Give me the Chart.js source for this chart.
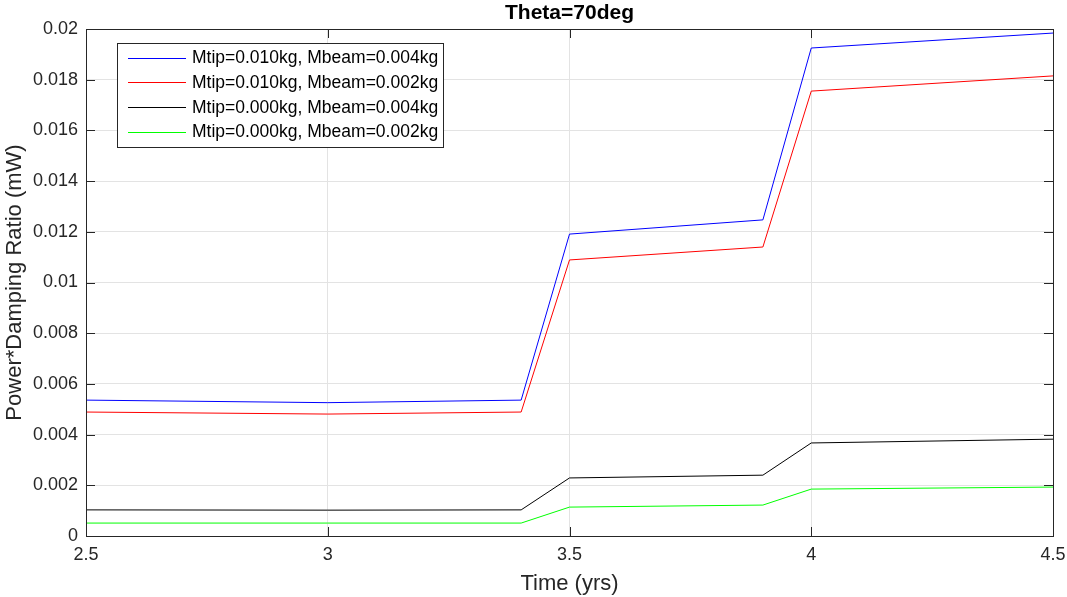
<!DOCTYPE html>
<html><head><meta charset="utf-8">
<script src="https://cdn.jsdelivr.net/npm/chart.js@4.4.1/dist/chart.umd.min.js"></script>
<style>html,body{margin:0;padding:0;background:#fff}#wrap{width:1067px;height:597px}</style>
</head><body><div id="wrap"><canvas id="c" width="1067" height="597"></canvas></div>
<script>
const timeYrs = [2.5, 3.0, 3.4, 3.5, 3.9, 4.0, 4.5];
const seriesLabels = ['Mtip=0.010kg, Mbeam=0.004kg','Mtip=0.010kg, Mbeam=0.002kg','Mtip=0.000kg, Mbeam=0.004kg','Mtip=0.000kg, Mbeam=0.002kg'];
const blueVals  = [0.00536, 0.00526, 0.00536, 0.01191, 0.01247, 0.01925, 0.01984];
const redVals   = [0.00489, 0.00481, 0.00489, 0.01089, 0.01140, 0.01755, 0.01815];
const blackVals = [0.00103, 0.00102, 0.00103, 0.00229, 0.00240, 0.00367, 0.00382];
const greenVals = [0.00051, 0.00051, 0.00051, 0.00114, 0.00122, 0.00185, 0.00193];
const xTicks = [2.5, 3, 3.5, 4, 4.5];
const yTicks = [0,0.002,0.004,0.006,0.008,0.01,0.012,0.014,0.016,0.018,0.02];
const chartTitle = 'Theta=70deg';
const colors = ['#0000ff','#ff0000','#000000','#00ff00'];
const allVals = [blueVals, redVals, blackVals, greenVals];

const FONT = "'Liberation Sans', Arial, Helvetica, sans-serif";
const AX = '#262626';

const frame = {
  id:'frame',
  afterDatasetsDraw(chart){
    const {ctx, chartArea:a, scales:{x,y}} = chart;
    ctx.save();
    ctx.font = 'bold 21px '+FONT; ctx.fillStyle='#000'; ctx.textAlign='center'; ctx.textBaseline='middle';
    ctx.fillText(chartTitle, (a.left+a.right)/2, 13);
    ctx.strokeStyle = AX; ctx.lineWidth = 1;
    ctx.strokeRect(Math.round(a.left)+0.5, Math.round(a.top)+0.5, Math.round(a.right-a.left), Math.round(a.bottom-a.top));
    const L = 9;
    ctx.beginPath();
    xTicks.forEach(v=>{const px=Math.round(x.getPixelForValue(v))+0.5;
      ctx.moveTo(px,a.bottom); ctx.lineTo(px,a.bottom-L);
      ctx.moveTo(px,a.top); ctx.lineTo(px,a.top+L);});
    yTicks.forEach(v=>{const py=Math.round(y.getPixelForValue(v))+0.5;
      ctx.moveTo(a.left,py); ctx.lineTo(a.left+L,py);
      ctx.moveTo(a.right,py); ctx.lineTo(a.right-L,py);});
    ctx.stroke();
    const bx=117.5, by=43.5, bw=326, bh=104;
    ctx.fillStyle='#fff'; ctx.fillRect(bx,by,bw,bh);
    ctx.strokeStyle='#262626'; ctx.strokeRect(bx,by,bw,bh);
    ctx.font = '17.5px '+FONT; ctx.textBaseline='middle'; ctx.textAlign='left';
    chart.data.datasets.forEach((ds,i)=>{
      const yy = 57.5 + i*24.7;
      ctx.strokeStyle=ds.borderColor; ctx.lineWidth=1;
      ctx.beginPath(); ctx.moveTo(128,Math.round(yy)+0.5); ctx.lineTo(186,Math.round(yy)+0.5); ctx.stroke();
      ctx.fillStyle='#000'; ctx.fillText(ds.label,192,yy+1);
    });
    ctx.restore();
  }
};

new Chart(document.getElementById('c'),{
  type:'line',
  data:{datasets: allVals.map((vals,i)=>({
    label: seriesLabels[i],
    data: timeYrs.map((t,j)=>({x:t,y:vals[j]})),
    borderColor: colors[i], backgroundColor: colors[i],
    borderWidth:1, pointRadius:0, tension:0, fill:false
  }))},
  options:{
    responsive:false, animation:false, devicePixelRatio:1,
    layout:{padding:{left:0,right:14,top:29,bottom:0}},
    plugins:{ legend:{display:false}, tooltip:{enabled:false}, title:{display:false} },
    scales:{
      x:{type:'linear', min:2.5, max:4.5,
        afterFit(s){s.height=61; s.paddingLeft=0; s.paddingRight=0;},
        afterBuildTicks(s){s.ticks = xTicks.map(v=>({value:v}));},
        ticks:{color:AX, font:{family:FONT,size:18}, padding:8, maxRotation:0,
          callback:v=>String(v)},
        grid:{color:'#e3e3e3', drawTicks:false}, border:{display:false},
        title:{display:true,text:'Time (yrs)',color:AX,font:{family:FONT,size:22,lineHeight:1.2},padding:{top:0,bottom:0}}
      },
      y:{min:0, max:0.02,
        afterFit(s){s.width=86; s.paddingTop=0; s.paddingBottom=0;},
        afterBuildTicks(s){s.ticks = yTicks.map(v=>({value:v}));},
        ticks:{color:AX, font:{family:FONT,size:18}, padding:8,
          callback:v=>String(+v.toFixed(3))},
        grid:{color:'#e3e3e3', drawTicks:false}, border:{display:false},
        title:{display:true,text:'Power*Damping Ratio (mW)',color:AX,font:{family:FONT,size:22,lineHeight:1.2},padding:{top:2,bottom:0}}
      }
    }
  },
  plugins:[frame]
});
</script></body></html>
